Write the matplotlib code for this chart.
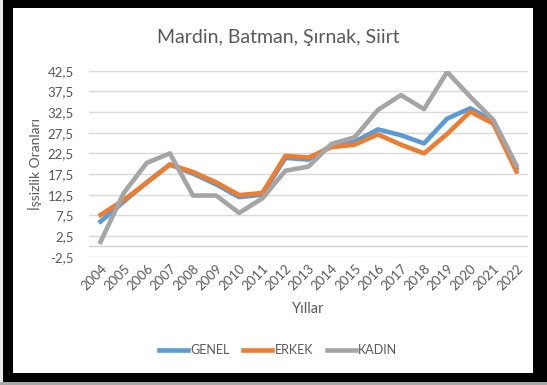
import matplotlib
matplotlib.use("Agg")
import matplotlib.pyplot as plt
from matplotlib.patches import Rectangle
import numpy as np

years = ["2004", "2005", "2006", "2007", "2008", "2009", "2010", "2011", "2012", "2013",
         "2014", "2015", "2016", "2017", "2018", "2019", "2020", "2021", "2022"]
genel = [6.0, 10.8, 15.5, 19.8, 17.6, 15.0, 11.9, 12.5, 21.4, 21.0,
         24.4, 25.3, 28.3, 26.9, 24.9, 30.9, 33.4, 30.3, 18.9]
erkek = [7.6, 11.2, 15.4, 19.8, 18.0, 15.5, 12.4, 12.9, 21.9, 21.5,
         24.0, 24.6, 27.1, 24.6, 22.5, 27.2, 32.6, 29.7, 18.1]
kadin = [1.1, 12.9, 20.2, 22.5, 12.3, 12.3, 8.1, 11.6, 18.3, 19.3,
         24.8, 26.4, 33.0, 36.6, 33.2, 42.2, 36.2, 30.6, 19.6]
yticks = [-2.5, 2.5, 7.5, 12.5, 17.5, 22.5, 27.5, 32.5, 37.5, 42.5]

plt.rcParams["font.family"] = ["Lato", "DejaVu Sans"]
TXT = "#595959"
W, H = 547, 385

fig = plt.figure(figsize=(W / 100, H / 100), dpi=100, facecolor="black")

# white chart card inside the dark frame
fig.patches.append(Rectangle((0, 0), 3 / W, 1, transform=fig.transFigure,
                             facecolor="#e8e8e8", edgecolor="none", zorder=-10))
fig.patches.append(Rectangle((0, 0), 1, 3 / H, transform=fig.transFigure,
                             facecolor="#a8a8a8", edgecolor="none", zorder=-10))
fig.patches.append(Rectangle((12.5 / W, 1 - 373 / H), (533 - 12.5) / W, (373 - 8) / H,
                             transform=fig.transFigure, facecolor="white",
                             edgecolor="none", zorder=-10))

ax = fig.add_axes([89 / W, 1 - 256.7 / H, (528 - 89) / W, (256.7 - 70.7) / H])
ax.set_facecolor("none")

x = np.arange(len(years))
ax.plot(x, genel, color="#5B9BD5", lw=3.3, label="GENEL", solid_joinstyle="round", zorder=3)
ax.plot(x, erkek, color="#ED7D31", lw=3.3, label="ERKEK", solid_joinstyle="round", zorder=4)
ax.plot(x, kadin, color="#A5A5A5", lw=3.3, label="KADIN", solid_joinstyle="round", zorder=5)

ax.set_xlim(-0.5, len(years) - 0.5)
ax.set_ylim(-2.5, 42.5)
ax.set_yticks(yticks)
ax.set_yticklabels([f"{v:.1f}".replace(".", ",") for v in yticks])
ax.set_xticks(x)
ax.set_xticklabels(years, rotation=45, ha="right", rotation_mode="anchor")
ax.tick_params(axis="both", length=0, colors=TXT, labelsize=9.5)
ax.tick_params(axis="x", pad=4)
ax.tick_params(axis="y", pad=11)
ax.grid(axis="y", color="#D9D9D9", lw=1.0)
ax.axhline(0, color="#D0D0D0", lw=1.0, zorder=1)
for s in ax.spines.values():
    s.set_visible(False)

ax.set_xlabel("Yıllar", color=TXT, fontsize=10.5, labelpad=7)
ax.set_ylabel("İşsizlik Oranları", color=TXT, fontsize=10, labelpad=4)

fig.text(278 / W, 1 - 37 / H, "Mardin, Batman, Şırnak, Siirt", ha="center", va="center",
         color=TXT, fontsize=14)

fig.legend(loc="center", bbox_to_anchor=(278 / W, 1 - 350 / H), ncol=3, frameon=False,
           fontsize=9, handlelength=2.3, handletextpad=0.2, columnspacing=1.1,
           labelcolor=TXT)

fig.savefig("out.png", dpi=100, facecolor="black")
